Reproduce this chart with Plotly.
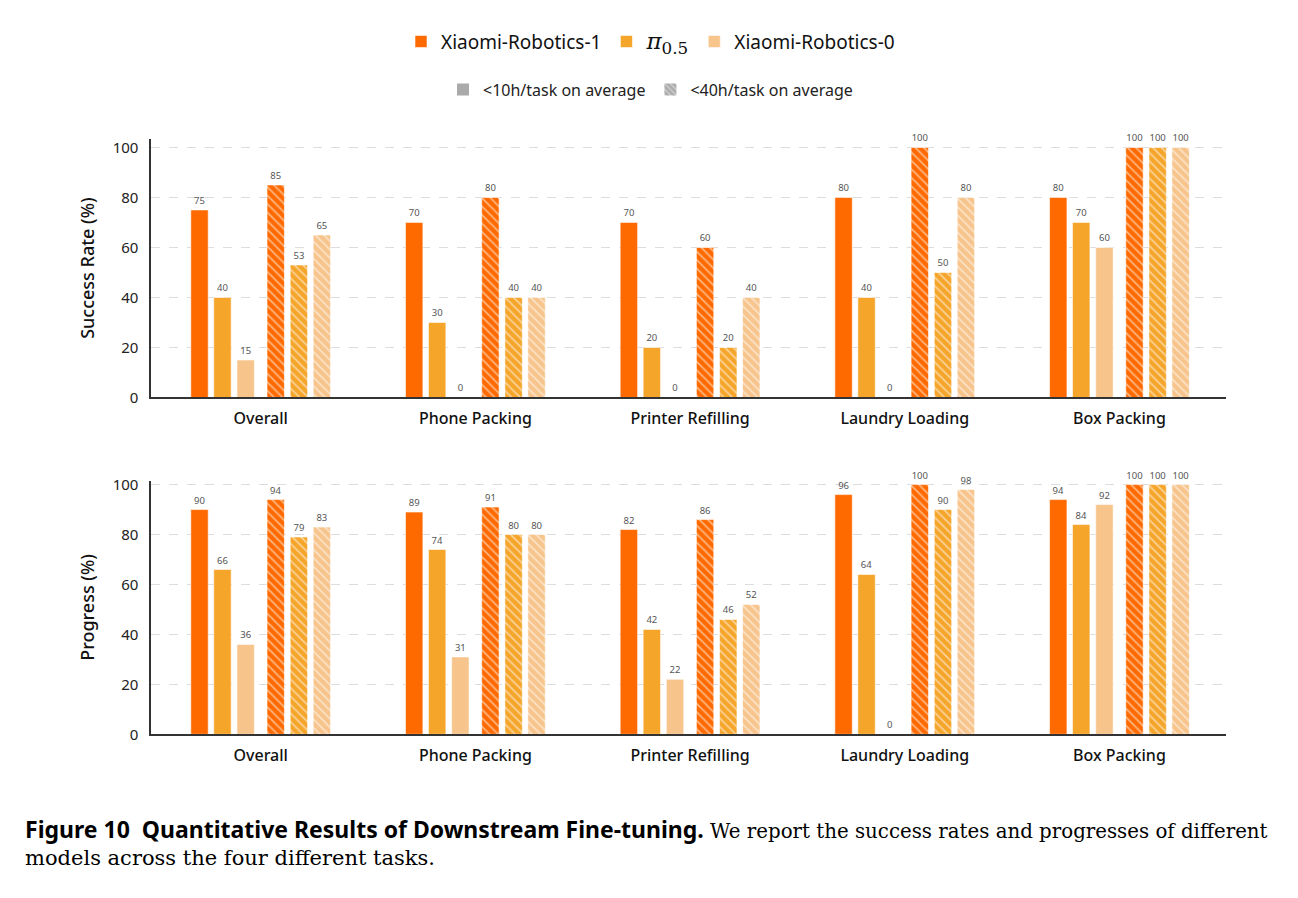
import numpy as np
import plotly.graph_objects as go
from plotly.subplots import make_subplots

tasks = ["Overall", "Phone Packing", "Printer Refilling", "Laundry Loading", "Box Packing"]
model_names = ["Xiaomi-Robotics-1",
               '<span style="font-family:DejaVu Serif;font-size:23px"><i>π</i></span>'
               '<span style="font-family:DejaVu Serif;font-size:24px"><sub>0.5</sub></span>',
               "Xiaomi-Robotics-0"]
regime_names = ["&lt;10h/task on average", "&lt;40h/task on average"]

# success rate (%)
sr_xr1_10h = [75, 70, 70, 80, 80]
sr_pi05_10h = [40, 30, 20, 40, 70]
sr_xr0_10h = [15, 0, 0, 0, 60]
sr_xr1_40h = [85, 80, 60, 100, 100]
sr_pi05_40h = [53, 40, 20, 50, 100]
sr_xr0_40h = [65, 40, 40, 80, 100]

# progress (%)
pg_xr1_10h = [90, 89, 82, 96, 94]
pg_pi05_10h = [66, 74, 42, 64, 84]
pg_xr0_10h = [36, 31, 22, 0, 92]
pg_xr1_40h = [94, 91, 86, 100, 100]
pg_pi05_40h = [79, 80, 46, 90, 100]
pg_xr0_40h = [83, 80, 52, 98, 100]

colors = ["#FF6A00", "#F5A52A", "#F7C48C"]
off_short = [-0.285, -0.178, -0.070]
off_long = [0.070, 0.178, 0.285]
bw = 0.081
xs = np.arange(len(tasks))

W, H = 1298, 898


# screen pixel -> paper fraction (page is drawn with a small offset)
def fx(p):
    return (p - 7.5) / W


def fy(p):
    return 1 - ((p - 13.3) / 0.9845) / H


fig = make_subplots(rows=2, cols=1)

panels = [
    (1, [sr_xr1_10h, sr_pi05_10h, sr_xr0_10h], [sr_xr1_40h, sr_pi05_40h, sr_xr0_40h]),
    (2, [pg_xr1_10h, pg_pi05_10h, pg_xr0_10h], [pg_xr1_40h, pg_pi05_40h, pg_xr0_40h]),
]

lbl_font = dict(size=9.5, color="#555555", family="Noto Sans")
edge = dict(color="rgba(255,255,255,0.7)", width=0.8)

for row, short, long in panels:
    for i in range(3):
        fig.add_trace(go.Bar(
            x=xs + off_short[i], y=short[i], width=bw,
            name=model_names[i], legend="legend", showlegend=(row == 1),
            marker=dict(color=colors[i], line=edge),
            texttemplate="%{y}", textposition="outside",
            textfont=lbl_font, constraintext="none", cliponaxis=False,
            hoverinfo="skip",
        ), row=row, col=1)
    for i in range(3):
        fig.add_trace(go.Bar(
            x=xs + off_long[i], y=long[i], width=bw, showlegend=False,
            marker=dict(color=colors[i], line=edge,
                        pattern=dict(shape="\\", fgcolor="white", bgcolor=colors[i],
                                     size=6, solidity=0.3)),
            texttemplate="%{y}", textposition="outside",
            textfont=lbl_font, constraintext="none", cliponaxis=False,
            hoverinfo="skip",
        ), row=row, col=1)

# legend entries for the data-regime row
fig.add_trace(go.Bar(x=[None], y=[None], name=regime_names[0], legend="legend2",
                     marker=dict(color="#AAAAAA", line=dict(width=0))), row=1, col=1)
fig.add_trace(go.Bar(x=[None], y=[None], name=regime_names[1], legend="legend2",
                     marker=dict(color="#AAAAAA", line=dict(width=0),
                                 pattern=dict(shape="\\", fgcolor="white", bgcolor="#AAAAAA",
                                              size=5, solidity=0.3))), row=1, col=1)

common_x = dict(domain=[fx(150.7), fx(1225)], range=[-0.51, 4.494], tickvals=list(xs),
                ticktext=tasks, showline=True, linecolor="#333333", linewidth=1.5,
                showgrid=False, zeroline=False, ticks="", ticklabelstandoff=6,
                tickfont=dict(size=16, color="#111111", family="Noto Sans", weight=500))
common_y = dict(tickvals=[0, 20, 40, 60, 80, 100], showline=True, linecolor="#333333",
                linewidth=1.5, gridcolor="#DDDDDD", griddash="dash", gridwidth=1,
                zeroline=False, ticks="", ticklabelstandoff=8,
                tickfont=dict(size=15, color="#222222", family="Noto Sans"))
title_font = dict(size=18, color="#111111", family="Noto Sans", weight=500)

fig.update_xaxes(**common_x)
fig.update_yaxes(**common_y)
fig.update_yaxes(domain=[fy(396.7), fy(137.3)], range=[0, 103.5], row=1, col=1,
                 title=dict(text="Success Rate (%)", standoff=13, font=title_font))
fig.update_yaxes(domain=[fy(734.3), fy(480)], range=[0, 101.6], row=2, col=1,
                 title=dict(text="Progress (%)", standoff=13, font=title_font))

fig.update_layout(
    width=W, height=H,
    margin=dict(l=0, r=0, t=0, b=0),
    plot_bgcolor="white", paper_bgcolor="white",
    barmode="overlay",
    font=dict(family="Noto Sans", color="#222222"),
    legend=dict(orientation="h", x=fx(650), xanchor="center", y=fy(40), yanchor="middle",
                font=dict(size=19, color="#111111"), itemclick=False),
    legend2=dict(orientation="h", x=fx(650), xanchor="center", y=fy(88), yanchor="middle",
                 font=dict(size=16, color="#222222"), itemclick=False),
)

fig.add_annotation(
    x=fx(22), y=fy(829), xref="paper", yref="paper", xanchor="left", yanchor="middle",
    showarrow=False, align="left",
    text=('<b>Figure 10  Quantitative Results of Downstream Fine-tuning.</b>'
          '<span style="font-family:DejaVu Serif;font-size:19.8px"> We report the success '
          'rates and progresses of different</span>'),
    font=dict(size=23, color="#000000", family="Noto Sans"),
)
fig.add_annotation(
    x=fx(22), y=fy(858), xref="paper", yref="paper", xanchor="left", yanchor="middle",
    showarrow=False, align="left",
    text="models across the four different tasks.",
    font=dict(size=21, color="#000000", family="DejaVu Serif"),
)

fig.write_html("out.html")
